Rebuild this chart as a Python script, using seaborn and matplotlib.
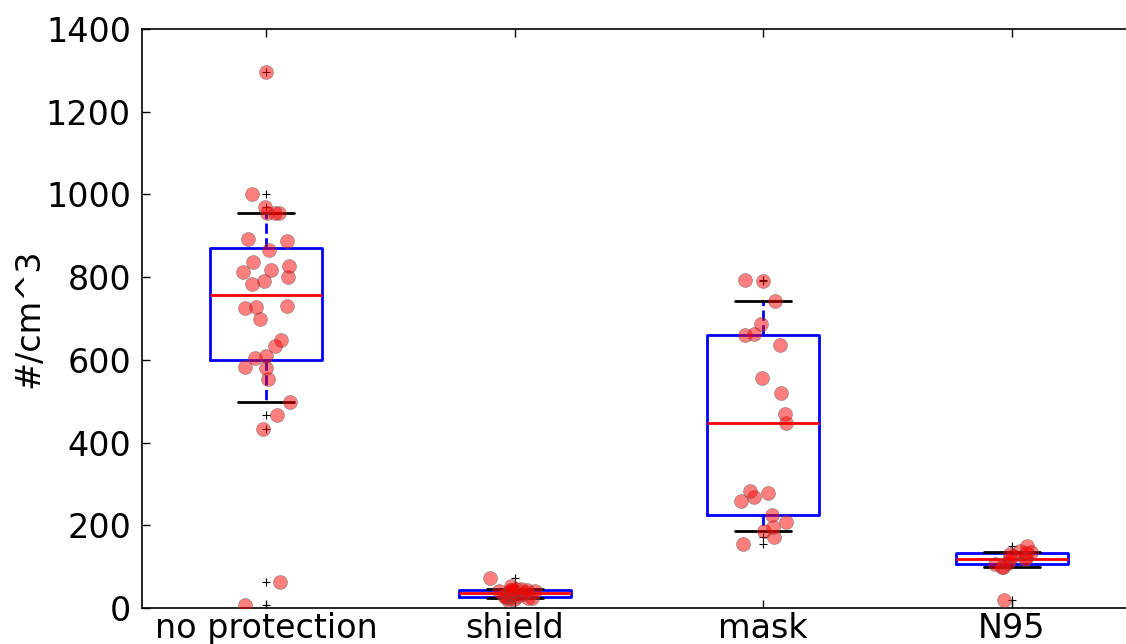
import numpy as np
import pandas as pd
import matplotlib
matplotlib.use("Agg")
import matplotlib.pyplot as plt
import seaborn as sns

categories = ["no protection", "shield", "mask", "N95"]

no_protection = [7, 64, 434, 467, 499, 553, 580, 583, 604, 609, 634, 648, 699,
                 725, 727, 731, 783, 791, 800, 813, 817, 827, 837, 866, 887, 892,
                 954, 956, 956, 970, 1001, 1296]
shield = [20, 22, 24, 25, 25, 26, 28, 30, 32, 34, 35, 36, 37, 38, 39, 40, 42,
          43, 44, 44, 45, 46, 52, 72]
mask = [154, 171, 185, 195, 209, 225, 259, 269, 279, 283, 447, 468, 519, 555,
        636, 660, 663, 686, 742, 791, 793]
n95 = [19, 100, 100, 106, 110, 115, 118, 120, 125, 130, 133, 135, 138, 150]

y_ticks = [0, 200, 400, 600, 800, 1000, 1200, 1400]
y_label = "#/cm^3"

groups = [no_protection, shield, mask, n95]
df = pd.DataFrame({
    "group": [c for c, g in zip(categories, groups) for _ in g],
    "value": [v for g in groups for v in g],
})

sns.set_theme(style="white")
plt.rcParams["font.family"] = ["DejaVu Sans"]
plt.rcParams.update({
    "xtick.direction": "in", "ytick.direction": "in",
    "xtick.top": True, "ytick.right": True,
    "xtick.bottom": True, "ytick.left": True,
    "axes.edgecolor": "black", "axes.linewidth": 1.2,
    "text.color": "black", "axes.labelcolor": "black",
    "xtick.color": "black", "ytick.color": "black",
})

fig = plt.figure(figsize=(11.26, 6.44), dpi=100)
ax = fig.add_axes([142 / 1126, 36 / 644, 994 / 1126, 579 / 644])

sns.boxplot(data=df, x="group", y="value", order=categories, whis=(10, 90),
            width=0.45, fill=False, linewidth=2, ax=ax, zorder=2,
            boxprops=dict(color="blue", linewidth=2),
            medianprops=dict(color="red", linewidth=2),
            whiskerprops=dict(color="blue", linestyle="--", linewidth=2),
            capprops=dict(color="black", linewidth=2),
            flierprops=dict(marker="+", markeredgecolor="black", markerfacecolor="black",
                            markersize=6, markeredgewidth=0.8))

np.random.seed(7)
sns.stripplot(data=df, x="group", y="value", order=categories, jitter=0.1,
              color="red", alpha=0.5, size=10, linewidth=0.6, edgecolor="0.35",
              ax=ax, zorder=3)

ax.set_xlim(-0.5, 3.5)
ax.set_ylim(0, 1400)
ax.set_yticks(y_ticks)
ax.set_yticklabels([str(t) for t in y_ticks])
ax.set_xlabel("")
ax.set_ylabel(y_label, fontsize=24, labelpad=0)
ax.tick_params(axis="both", labelsize=24, length=6, width=1, color="black",
               labelcolor="black")
ax.tick_params(axis="x", pad=3)
ax.tick_params(axis="y", pad=8)
for s in ax.spines.values():
    s.set_visible(True)
    s.set_color("black")
    s.set_linewidth(1.2)

fig.savefig("out.png", dpi=100)
